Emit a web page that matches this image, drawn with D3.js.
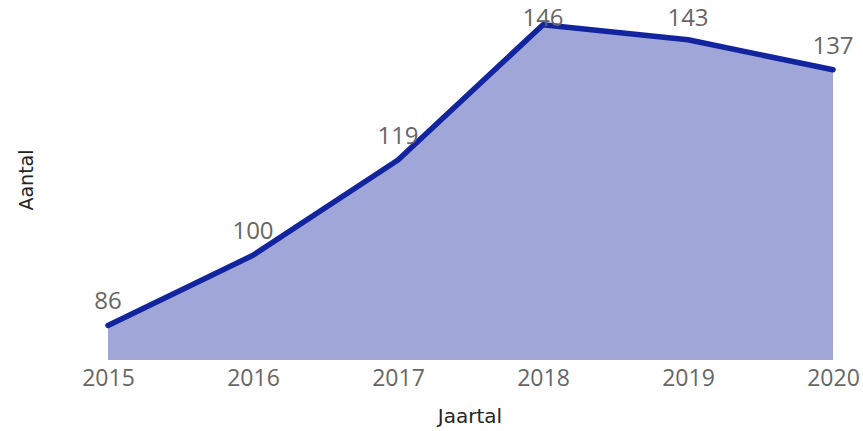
<!DOCTYPE html>
<html>
<head>
  <meta charset="utf-8">
  <title>Aantal per jaartal</title>
  <script src="https://d3js.org/d3.v7.min.js"></script>
  <style>
    body { margin: 0; background: #fff; }
    .lbl, .tick text { font-family: "Open Sans", sans-serif; fill: #666; }
    .title { font-family: "DejaVu Sans", sans-serif; fill: #252423; }
  </style>
</head>
<body>
<div id="output"></div>
<script>
  var years = [2015, 2016, 2017, 2018, 2019, 2020];
  var counts = [86, 100, 119, 146, 143, 137];

  var w = 863, h = 431;
  var data = years.map(function(d, i) { return {year: d, value: counts[i]}; });

  var x = d3.scalePoint()
    .domain(years)
    .range([108, 833]);

  var y = d3.scaleLinear()
    .domain([79.1, 146])
    .range([360, 24.7]);

  var svg = d3.select("#output").append("svg")
    .attr("width", w)
    .attr("height", h);

  var area = d3.area()
    .x(function(d) { return x(d.year); })
    .y0(y(79.1))
    .y1(function(d) { return y(d.value); });

  var line = d3.line()
    .x(function(d) { return x(d.year); })
    .y(function(d) { return y(d.value); });

  svg.append("path")
    .datum(data)
    .attr("d", area)
    .attr("fill", "#a0a6d8");

  svg.append("path")
    .datum(data)
    .attr("d", line)
    .attr("fill", "none")
    .attr("stroke", "#13249f")
    .attr("stroke-width", 5.5)
    .attr("stroke-linejoin", "round")
    .attr("stroke-linecap", "round");

  // data labels, kept inside the top of the plot
  svg.selectAll(".lbl")
    .data(data)
    .enter()
    .append("text")
    .attr("class", "lbl")
    .attr("x", function(d) { return x(d.year); })
    .attr("y", function(d) { return Math.max(y(d.value) - 16, 26); })
    .attr("text-anchor", "middle")
    .style("font-size", "24px")
    .text(function(d) { return d.value; });

  var xAxis = d3.axisBottom(x).tickSize(0).tickPadding(0);

  var gx = svg.append("g")
    .attr("transform", "translate(0,370)")
    .call(xAxis);
  gx.select(".domain").remove();
  gx.selectAll("text")
    .attr("dy", "0.71em")
    .style("font-size", "23px")
    .attr("fill", "#666");

  svg.append("text")
    .attr("class", "title")
    .attr("x", 470)
    .attr("y", 423)
    .attr("text-anchor", "middle")
    .style("font-size", "20px")
    .text("Jaartal");

  svg.append("text")
    .attr("class", "title")
    .attr("transform", "translate(33,180) rotate(-90)")
    .attr("text-anchor", "middle")
    .style("font-size", "19px")
    .text("Aantal");
</script>
</body>
</html>
